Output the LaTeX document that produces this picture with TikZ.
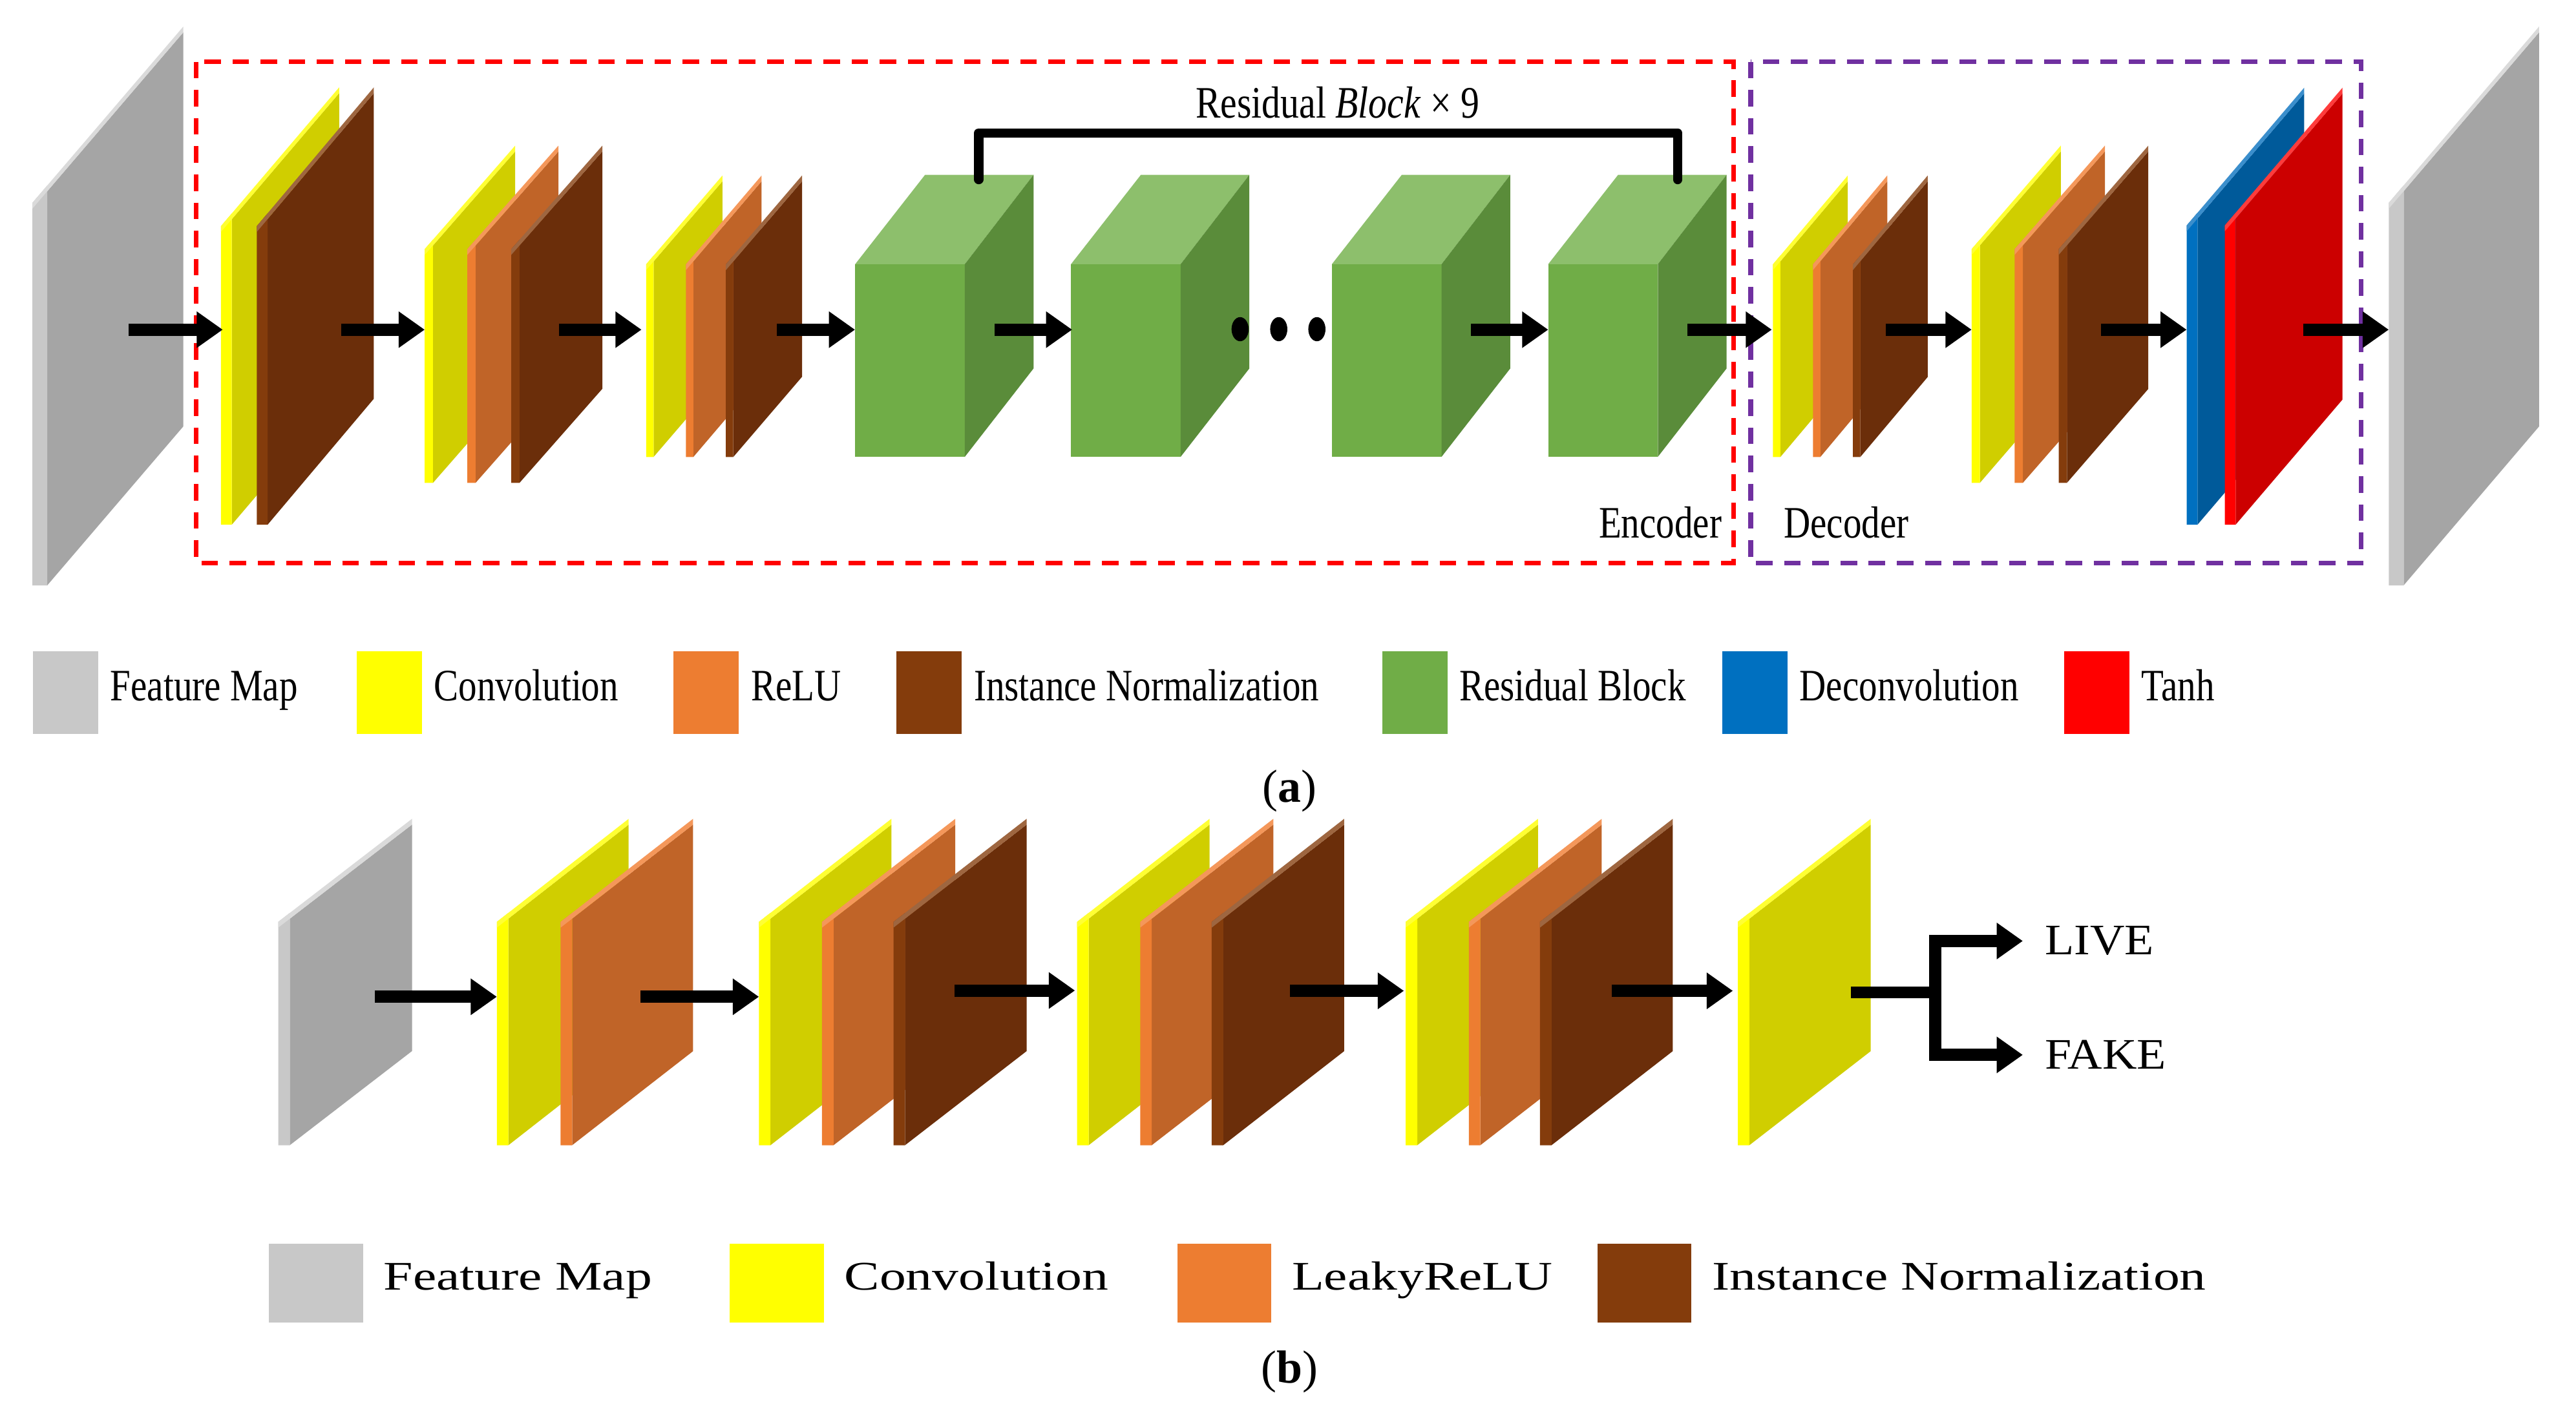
\documentclass[tikz,border=0pt]{standalone}
\usepackage{fontspec}
\setmainfont{Liberation Serif}
\usepackage{graphicx}
\usetikzlibrary{arrows.meta}
\definecolor{yF}{HTML}{D0CE00}\definecolor{yS}{HTML}{FFFF00}\definecolor{yT}{HTML}{FFFF33}
\definecolor{oF}{HTML}{C06428}\definecolor{oS}{HTML}{ED7D31}\definecolor{oT}{HTML}{F4975A}
\definecolor{bF}{HTML}{6B2E0A}\definecolor{bS}{HTML}{843C0C}\definecolor{bT}{HTML}{9E6640}
\definecolor{gF}{HTML}{A5A5A5}\definecolor{gS}{HTML}{C8C8C8}\definecolor{gT}{HTML}{DADADA}
\definecolor{uF}{HTML}{005A9A}\definecolor{uS}{HTML}{0070C0}\definecolor{uT}{HTML}{3A8ECC}
\definecolor{rF}{HTML}{CC0000}\definecolor{rS}{HTML}{FF0000}\definecolor{rT}{HTML}{FF3B3B}
\definecolor{cF}{HTML}{70AD47}\definecolor{cT}{HTML}{8DBF6C}\definecolor{cS}{HTML}{5A8C3A}
\definecolor{boxP}{HTML}{7030A0}
\newcommand\slab[9]{%
\pgfmathsetmacro\kk{(#3-#4)/(#2-#1)}%
\pgfmathsetmacro\xa{#1+#9}%
\pgfmathsetmacro\tt{3.5}%
\pgfmathsetmacro\ya{#3-\kk*#9}%
\pgfmathsetmacro\yd{#5-\kk*(#2-#1-#9)}%
\fill[#6] (\xa,\ya+\tt) -- (#2,#4+\tt) -- (#2,\yd) -- (\xa,#5) -- cycle;
\fill[#7] (#1,#3) -- (\xa,\ya) -- (\xa,#5) -- (#1,#5) -- cycle;
\fill[#8] (#1,#3) -- (#2,#4) -- (#2,#4+\tt) -- (#1,#3+\tt) -- cycle;}
\newcommand\cube[1]{%
\fill[cF] (#1,160) rectangle ++(66.4,116.7);
\fill[cT] (#1,160) -- ++(42.3,-54.1) -- ++(65.7,0) -- ++(-41.6,54.1) -- cycle;
\fill[cS] (#1+66.4,160) -- (#1+108,105.9) -- (#1+108,223.2) -- (#1+66.4,276.7) -- cycle;}
\newcommand\nar[2]{\scalebox{#1}[1]{#2}}
\begin{document}
\begin{tikzpicture}[x=0.02cm,y=-0.02cm,
  arr/.style={line width=4.2pt,-{Triangle[length=9pt,width=12pt]}},
  ta/.style={font=\fontsize{15.5}{16}\selectfont,inner sep=0pt},
  tb/.style={font=\fontsize{14}{16}\selectfont,inner sep=0pt},
  dbox/.style={line width=1.6pt,dash pattern=on 5.7pt off 4pt}]
\useasboundingbox (0,0) rectangle (1560,855.6);
% boxes
\draw[dbox,red] (118.8,37.5) rectangle (1049.8,341);
\draw[dbox,boxP] (1060.2,37.5) rectangle (1430,341);
% part a slabs
\slab{19.6}{111}{122.9}{16.1}{354.6}{gF}{gS}{gT}{9}
\slab{133.8}{205.4}{137}{52.9}{317.8}{yF}{yS}{yT}{6.6}
\slab{155.5}{226.4}{137}{52.9}{317.8}{bF}{bS}{bT}{6.6}
\slab{257.2}{312}{150.9}{88.2}{292.5}{yF}{yS}{yT}{5}
\slab{283}{338.2}{150.9}{88.2}{292.5}{oF}{oS}{oT}{5}
\slab{309.6}{364.8}{150.9}{88.2}{292.5}{bF}{bS}{bT}{5}
\slab{391.3}{437.5}{160.1}{106.3}{276.8}{yF}{yS}{yT}{4.5}
\slab{415.4}{461.2}{160.1}{106.3}{276.8}{oF}{oS}{oT}{4.5}
\slab{439.6}{485.7}{160.1}{106.3}{276.8}{bF}{bS}{bT}{4.5}
\cube{517.9}\cube{648.6}\cube{806.6}\cube{937.6}
\slab{1073.7}{1119}{160.1}{106.3}{276.8}{yF}{yS}{yT}{4.5}
\slab{1097.9}{1142.9}{160.1}{106.3}{276.8}{oF}{oS}{oT}{4.5}
\slab{1122.1}{1167.4}{160.1}{106.3}{276.8}{bF}{bS}{bT}{4.5}
\slab{1194}{1248}{150.9}{88.2}{292.5}{yF}{yS}{yT}{5}
\slab{1220}{1274.7}{150.9}{88.2}{292.5}{oF}{oS}{oT}{5}
\slab{1246.7}{1301}{150.9}{88.2}{292.5}{bF}{bS}{bT}{5}
\slab{1324.2}{1395.4}{136.6}{53.1}{317.8}{uF}{uS}{uT}{6.6}
\slab{1347.3}{1418.6}{136.6}{53.1}{317.8}{rF}{rS}{rT}{6.6}
\slab{1446.6}{1537.6}{122.9}{16.1}{354.6}{gF}{gS}{gT}{9}
% dots
\foreach \x in {751,774.4,797.5} \fill (\x,199.4) ellipse (5.2 and 7.3);
% bracket
\draw[line width=3.2pt,line cap=round,line join=round] (592.7,108.8) -- (592.7,80.5) -- (1016,80.5) -- (1016,108.8);
\node[ta] (rb) at (810,62) {\nar{0.83}{Residual \textit{Block} × 9}};
% arrows a
\foreach \a/\b [count=\i] in {78/134.9,206.5/257.2,338.6/388.5,470.6/517.8,602.5/649.3,890.8/937.6,1021.8/1073,1142/1194,1272.3/1324.2,1394.7/1446.6}{
  \coordinate (as\i) at (\a,199.7); \coordinate (ae\i) at (\b,199.7);
  \draw[arr] (as\i) -- (ae\i);}
\node[ta,anchor=base east] (enc) at (1043,326) {\nar{0.82}{Encoder}};
\node[ta,anchor=base west] (dec) at (1080,326) {\nar{0.82}{Decoder}};
% legend a
\foreach \x/\c/\t [count=\i] in {20/gS/Feature Map,216/yS/Convolution,408/oS/ReLU,543/bS/Instance Normalization,837/cF/Residual Block,1043/uS/Deconvolution,1250/rS/Tanh}{
  \fill[\c] (\x,394.6) rectangle ++(39.5,50);
  \node[ta,anchor=base west] (la\i) at (\x+46.5,424.6) {\nar{0.82}{\t}};}
\node[font=\fontsize{16}{18}\selectfont] (lbla) at (781,479) {(\textbf{a})};
% part b
\slab{168.5}{249.5}{558.4}{496}{693.7}{gF}{gS}{gT}{7}
\slab{300.9}{380.7}{558.4}{496}{693.7}{yF}{yS}{yT}{7}
\slab{339.5}{419.7}{558.4}{496}{693.7}{oF}{oS}{oT}{7}
\slab{459.6}{539.8}{558.4}{496}{693.7}{yF}{yS}{yT}{7}
\slab{497.8}{578.5}{558.4}{496}{693.7}{oF}{oS}{oT}{7}
\slab{541.1}{621.7}{558.4}{496}{693.7}{bF}{bS}{bT}{7}
\slab{652.3}{732.5}{558.4}{496}{693.7}{yF}{yS}{yT}{7}
\slab{690.5}{771.1}{558.4}{496}{693.7}{oF}{oS}{oT}{7}
\slab{733.8}{814}{558.4}{496}{693.7}{bF}{bS}{bT}{7}
\slab{851.3}{931.4}{558.4}{496}{693.7}{yF}{yS}{yT}{7}
\slab{889.5}{970}{558.4}{496}{693.7}{oF}{oS}{oT}{7}
\slab{932.6}{1013}{558.4}{496}{693.7}{bF}{bS}{bT}{7}
\slab{1052.4}{1132.9}{558.4}{496}{693.7}{yF}{yS}{yT}{7}
\foreach \a/\b/\y [count=\i] in {227/300.9/603.8,387.9/459.6/603.8,578/651/600,781/850.2/600.2,976/1049.4/600.2}{
  \coordinate (bs\i) at (\a,\y); \coordinate (be\i) at (\b,\y);
  \draw[arr] (bs\i) -- (be\i);}
\node[tb,anchor=west] (live) at (1238,570) {\nar{1.1}{\fontsize{15}{16}\selectfont LIVE}};
\node[tb,anchor=west] (fake) at (1238,639) {\nar{1.1}{\fontsize{15}{16}\selectfont FAKE}};
\coordinate (bo) at (1120.9,601);
\coordinate (bj) at (1172,601);
\draw[line width=4pt] (bo) -- (bj);
\draw[arr] (bj) |- (live.west -| 1225,568.6);
\draw[arr] (bj) |- (fake.west -| 1225,638.7);
% legend b
\foreach \x/\c/\t [count=\i] in {163/gS/Feature Map,442/yS/Convolution,713/oS/LeakyReLU,967.4/bS/Instance Normalization}{
  \fill[\c] (\x,753.2) rectangle ++(57,48);
  \node[tb,anchor=base west] (lb\i) at (\x+69,781.2) {\nar{1.3}{\t}};}
\node[font=\fontsize{16}{18}\selectfont] (lblb) at (781,831) {(\textbf{b})};
\end{tikzpicture}
\end{document}
